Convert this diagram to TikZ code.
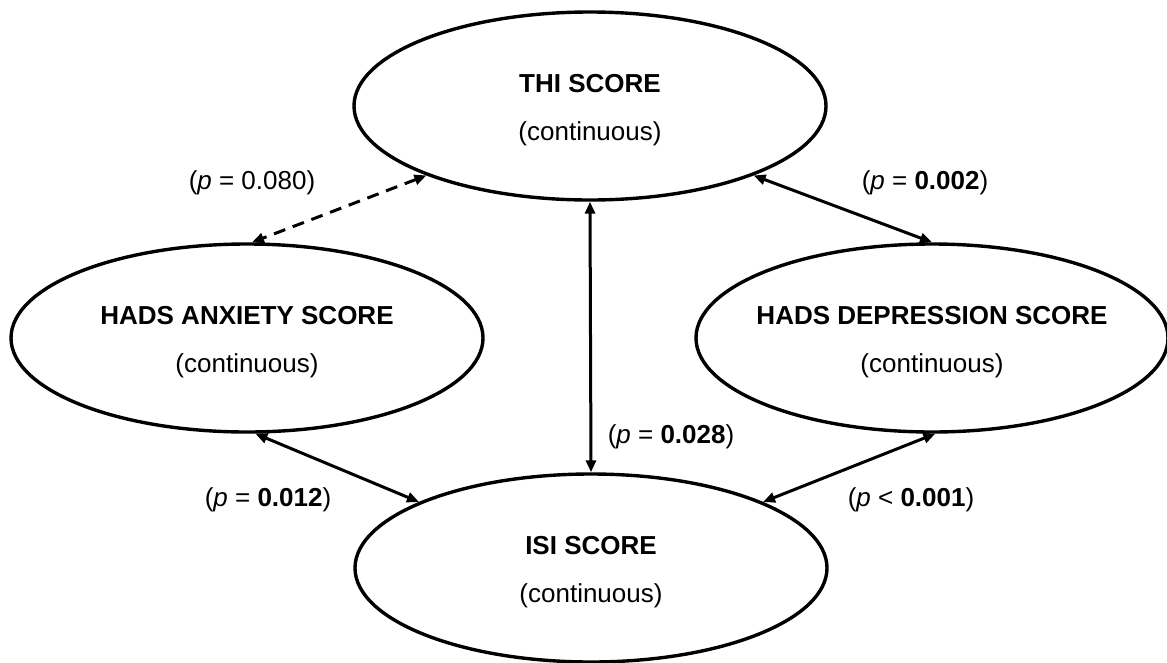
\documentclass[tikz,border=0pt]{standalone}
\usepackage{fontspec}
\setmainfont{Liberation Sans}
\usetikzlibrary{positioning,arrows.meta,shapes.geometric}

\tikzset{
  oval/.style={ellipse, draw=black, line width=3.4pt, minimum width=472pt, minimum height=188pt, inner sep=0pt},
  head/.style={font=\bfseries\fontsize{26}{30}\selectfont},
  sub/.style={font=\fontsize{26}{30}\selectfont},
  pval/.style={font=\fontsize{26}{30}\selectfont},
  link/.style={line width=3pt, {Triangle[length=12pt,width=10pt]}-{Triangle[length=12pt,width=10pt]}},
}

\begin{document}
\begin{tikzpicture}[x=1pt,y=-1pt]
\useasboundingbox (0,0) rectangle (1167,662);
\def\up{22pt}
\def\down{-28pt}

% Score ellipses
\node[oval] (thi) at (590,106) {};
\node[oval] (anx) at (247,338) {};
\node[oval] (dep) at (932,338) {};
\node[oval] (isi) at (591,568) {};

% Ellipse texts
\node[head] (thiT) at ([yshift=\up]thi.center) {THI SCORE};
\node[sub] (thiC) at ([yshift=\down]thi.center) {(continuous)};
\node[head] (anxT) at ([yshift=\up]anx.center) {HADS ANXIETY SCORE};
\node[sub] (anxC) at ([yshift=\down]anx.center) {(continuous)};
\node[head] (depT) at ([yshift=\up]dep.center) {HADS DEPRESSION SCORE};
\node[sub] (depC) at ([yshift=\down]dep.center) {(continuous)};
\node[head] (isiT) at ([yshift=\up]isi.center) {ISI SCORE};
\node[sub] (isiC) at ([yshift=\down]isi.center) {(continuous)};

% Associations
\draw[link, dash pattern=on 12pt off 8pt] (thi.203) -- (anx.87);
\draw[link] (thi.337) -- (dep.90);
\draw[link] (thi.270) -- (isi.90);
\draw[link] (anx.275) -- (isi.159);
\draw[link] (dep.272) -- (isi.21);

% p values
\node[pval] (pThiAnx) at (252,183) {(\textit{p} = 0.080)};
\node[pval] (pThiDep) at (925,183) {(\textit{p} = \textbf{0.002})};
\node[pval] (pThiIsi) at (671,437) {(\textit{p} = \textbf{0.028})};
\node[pval] (pAnxIsi) at (268,500) {(\textit{p} = \textbf{0.012})};
\node[pval] (pDepIsi) at (911,500) {(\textit{p} < \textbf{0.001})};

\end{tikzpicture}
\end{document}
